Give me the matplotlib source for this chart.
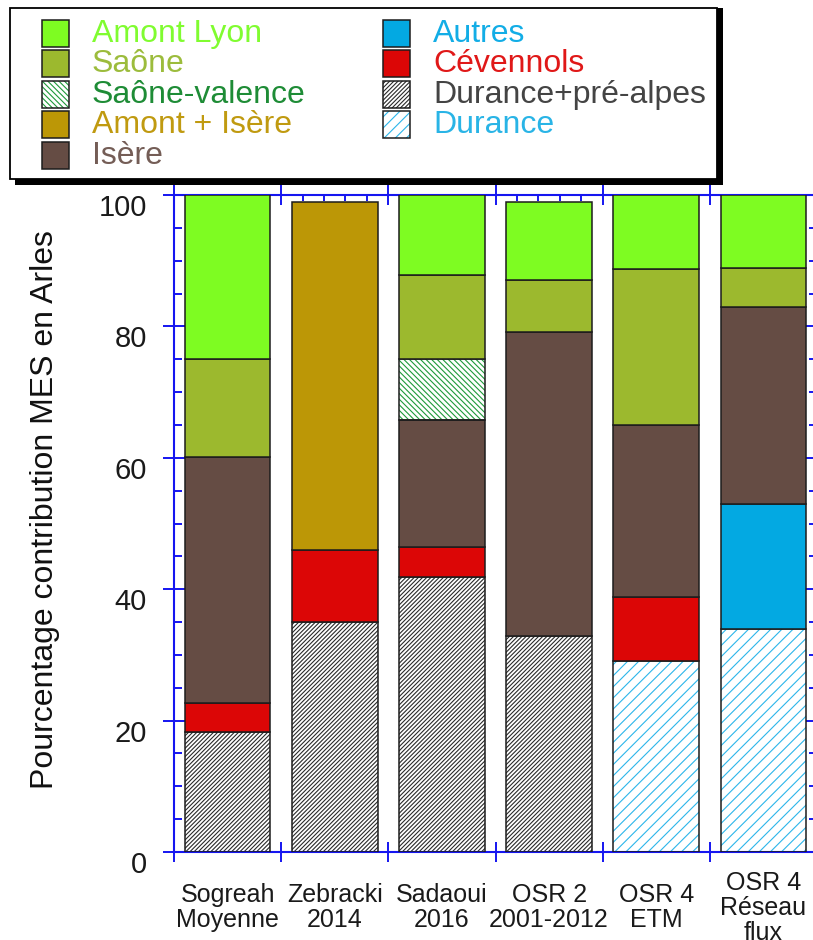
import matplotlib as mpl
import matplotlib.pyplot as plt
from matplotlib.patches import Rectangle
from matplotlib.ticker import MultipleLocator, FixedLocator
from matplotlib.transforms import ScaledTranslation

mpl.rcParams.update({
    'font.family': ['Liberation Sans', 'DejaVu Sans'],
    'hatch.linewidth': 0.8,
})

# ---- data (percent contribution, stacked bottom -> top) ----
studies = ['Sogreah\nMoyenne', 'Zebracki\n2014', 'Sadaoui\n2016',
           'OSR 2\n2001-2012', 'OSR 4\nETM', 'OSR 4\nRéseau\nflux']

durance_pre_alpes = [18.2, 35.0, 41.9, 32.9, 0.0, 0.0]
durance = [0.0, 0.0, 0.0, 0.0, 29.1, 33.9]
cevennols = [4.5, 11.0, 4.5, 0.0, 9.7, 0.0]
autres = [0.0, 0.0, 0.0, 0.0, 0.0, 19.1]
amont_isere = [0.0, 52.9, 0.0, 0.0, 0.0, 0.0]
isere = [37.4, 0.0, 19.4, 46.2, 26.2, 29.9]
saone_valence = [0.0, 0.0, 9.2, 0.0, 0.0, 0.0]
saone = [14.9, 0.0, 12.8, 7.9, 23.8, 6.0]
amont_lyon = [25.0, 0.0, 12.2, 11.9, 11.2, 11.1]

# name, values, fill colour, hatch, hatch colour, text colour
series = [
    ('Durance+pré-alpes', durance_pre_alpes, 'white', '////////', '#2a2a2a', '#444444'),
    ('Durance', durance, 'white', '///', '#2cb6ea', '#29b4e6'),
    ('Cévennols', cevennols, '#dc0606', None, None, '#e01818'),
    ('Autres', autres, '#03a9e2', None, None, '#12ade6'),
    ('Amont + Isère', amont_isere, '#bc9706', None, None, '#c09a10'),
    ('Isère', isere, '#654c44', None, None, '#745d56'),
    ('Saône-valence', saone_valence, 'white', '\\\\\\\\\\\\', '#1f9a3a', '#1e8c36'),
    ('Saône', saone, '#9cb92e', None, None, '#9cbc3c'),
    ('Amont Lyon', amont_lyon, '#7efc22', None, None, '#80fc30'),
]
legend_col1 = ['Amont Lyon', 'Saône', 'Saône-valence', 'Amont + Isère', 'Isère']
legend_col2 = ['Autres', 'Cévennols', 'Durance+pré-alpes', 'Durance']

W, H = 813, 940
fig = plt.figure(figsize=(W / 100, H / 100), dpi=100)
ax = fig.add_axes([174 / W, 88 / H, 643 / W, 657 / H])

BLUE = '#1515f0'
EDGE = '#1c1c1c'
x = list(range(len(studies)))
bottom = [0.0] * len(studies)
for name, vals, face, hatch, hcol, tcol in series:
    xs = [i for i in x if vals[i] > 0]
    hs = [vals[i] for i in xs]
    bs = [bottom[i] for i in xs]
    if hatch:
        ax.bar(xs, hs, 0.8, bottom=bs, color='white', edgecolor=hcol,
               hatch=hatch, linewidth=0, zorder=2)
        ax.bar(xs, hs, 0.8, bottom=bs, fill=False, edgecolor=EDGE,
               linewidth=1.1, zorder=3)
    else:
        ax.bar(xs, hs, 0.8, bottom=bs, color=face, edgecolor=EDGE,
               linewidth=1.1, zorder=3)
    for i in x:
        bottom[i] += vals[i]

ax.set_xlim(-0.5, len(studies) - 0.5)
ax.set_ylim(0, 100)

for sp in ax.spines.values():
    sp.set_color(BLUE)
    sp.set_linewidth(1.5)

ax.xaxis.set_major_locator(FixedLocator([i - 0.5 for i in range(len(studies) + 1)]))
ax.xaxis.set_minor_locator(MultipleLocator(0.2, offset=0.5))
ax.yaxis.set_major_locator(MultipleLocator(20))
ax.yaxis.set_minor_locator(MultipleLocator(5))

ax.tick_params(axis='x', which='major', direction='inout', length=15,
               width=1.4, color=BLUE, top=True, bottom=True,
               labelbottom=False)
ax.tick_params(axis='x', which='minor', direction='in', length=4,
               width=1.4, color=BLUE, top=True, bottom=True)
ax.tick_params(axis='y', which='major', direction='inout', length=15.8,
               width=1.4, color=BLUE, left=True, right=True, pad=11.5,
               labelsize=21, labelcolor='#1a1a1a')
ax.tick_params(axis='y', which='minor', direction='in', length=5.8,
               width=1.4, color=BLUE, left=True, right=True)

# tick labels sit a little below their ticks in the original
shift = ScaledTranslation(0, -10 / 100, fig.dpi_scale_trans)
for lab in ax.get_yticklabels():
    lab.set_transform(lab.get_transform() + shift)

for i, s in enumerate(studies):
    ax.text(i, -0.085, s, transform=ax.get_xaxis_transform(), ha='center',
            va='center', fontsize=18, color='#1a1a1a', linespacing=1.05)

ax.set_ylabel('Pourcentage contribution MES en Arles', fontsize=23,
              color='#111111')
ax.yaxis.set_label_coords(-0.178, 0.5205)


# ---- legend box drawn by hand (boxed, with hard black shadow) ----
def fx(px):
    return px / W


def fy(py):
    return 1 - py / H


fig.add_artist(Rectangle((fx(15), fy(185)), fx(708), 177 / H,
                         transform=fig.transFigure, facecolor='black',
                         edgecolor='none', zorder=4))
fig.add_artist(Rectangle((fx(10), fy(179)), fx(707), 171 / H,
                         transform=fig.transFigure, facecolor='white',
                         edgecolor='black', linewidth=1.3, zorder=5))

style = {s[0]: s for s in series}
for col, names in enumerate([legend_col1, legend_col2]):
    hx = 42 if col == 0 else 383
    tx = 92 if col == 0 else 433
    for row, name in enumerate(names):
        _, _, face, hatch, hcol, tcol = style[name]
        top = 20 + row * 30.4
        if hatch:
            fig.add_artist(Rectangle((fx(hx), fy(top + 27)), fx(27), 27 / H,
                                     transform=fig.transFigure, facecolor='white',
                                     edgecolor=hcol, hatch=hatch, linewidth=0,
                                     zorder=6))
            fig.add_artist(Rectangle((fx(hx), fy(top + 27)), fx(27), 27 / H,
                                     transform=fig.transFigure, fill=False,
                                     edgecolor=EDGE, linewidth=1.1, zorder=7))
        else:
            fig.add_artist(Rectangle((fx(hx), fy(top + 27)), fx(27), 27 / H,
                                     transform=fig.transFigure, facecolor=face,
                                     edgecolor=EDGE, linewidth=1.1, zorder=7))
        fig.text(fx(tx), fy(top + 14), name, fontsize=23, color=tcol,
                 ha='left', va='center', zorder=8)

fig.savefig('out.png', dpi=100)
